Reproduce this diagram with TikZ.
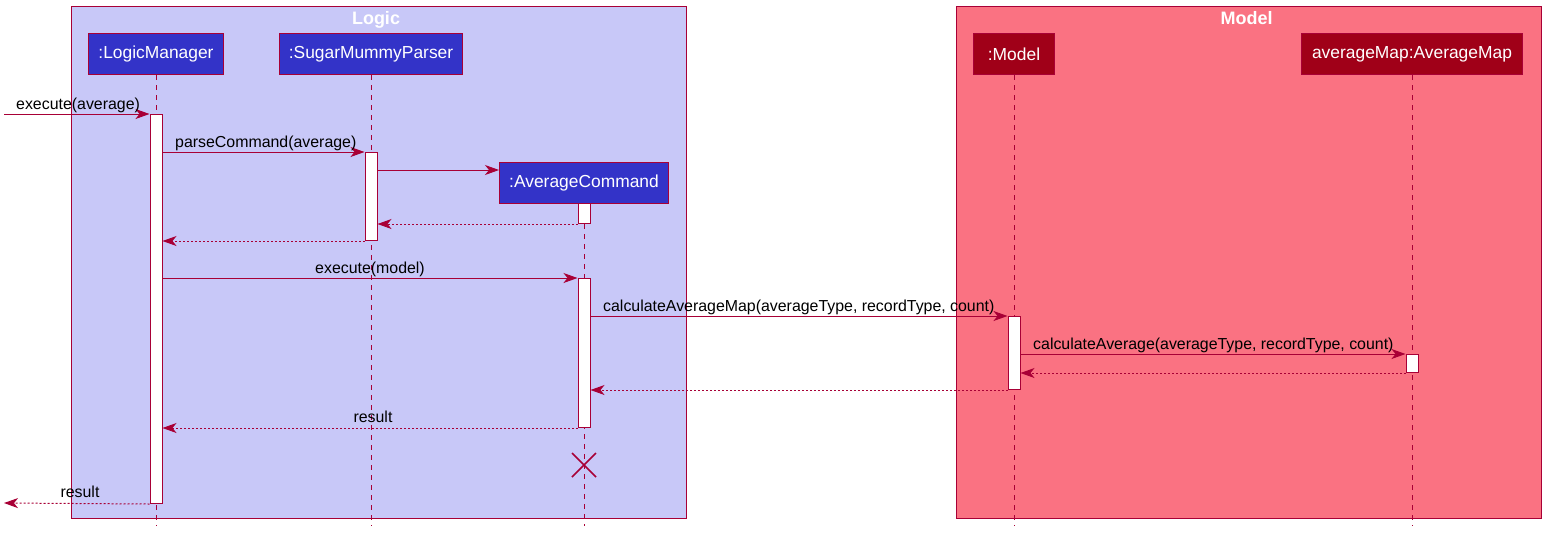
\documentclass[tikz,border=0pt]{standalone}
\usepackage{fontspec}
\setmainfont{Liberation Sans}
\usetikzlibrary{arrows.meta}
\definecolor{umlred}{HTML}{A80036}
\definecolor{logicbg}{HTML}{C8C8F8}
\definecolor{modelbg}{HTML}{FA7282}
\definecolor{logicobj}{HTML}{3333C8}
\definecolor{modelobj}{HTML}{A00018}

\begin{document}
\begin{tikzpicture}
[
x=1pt, y=-1pt,
every node/.style={font=\fontsize{15.9}{18}\selectfont},
frame/.style={draw=umlred, line width=1pt},
title/.style={text=white, font=\fontsize{18}{20}\selectfont\bfseries, anchor=base},
obj/.style={draw=umlred, line width=1pt, text=white, minimum height=41pt, inner sep=0pt, font=\fontsize{17.4}{20}\selectfont, anchor=north},
life/.style={draw=umlred, dash pattern=on 5pt off 5pt, line width=0.8pt},
act/.style={draw=umlred, fill=white, line width=1pt, minimum width=12pt, inner sep=0pt, anchor=north},
msg/.style={draw=umlred, line width=1pt, -{Stealth[length=14pt,width=10pt,inset=4pt]}},
ret/.style={msg, dash pattern=on 2pt off 2pt},
lbl/.style={anchor=base west, inner sep=0pt}
]
\useasboundingbox (0,0) rectangle (1553,539);

% boxes
\draw[frame, fill=logicbg] (71,6) rectangle (686,518);
\draw[frame, fill=modelbg] (956,6) rectangle (1541,518);
\node[title] (logicT) at (376,24) {Logic};
\node[title] (modelT) at (1246.5,24) {Model};

% participants
\node[obj, fill=logicobj, minimum width=135pt] (lm) at (156,33) {:LogicManager};
\node[obj, fill=logicobj, minimum width=183pt] (sp) at (371,33) {:SugarMummyParser};
\node[obj, fill=logicobj, minimum width=169pt] (ac) at (584,162) {:AverageCommand};
\node[obj, fill=modelobj, minimum width=81pt] (md) at (1014,33) {:Model};
\node[obj, fill=modelobj, minimum width=221pt] (am) at (1412,33) {averageMap:AverageMap};

% lifelines
\draw[life] (lm.south) -- (lm.south |- 0,526);
\draw[life] (sp.south) -- (sp.south |- 0,526);
\draw[life] (ac.south) -- (ac.south |- 0,526);
\draw[life] (md.south) -- (md.south |- 0,526);
\draw[life] (am.south) -- (am.south |- 0,526);

% activations
\node[act, minimum height=389pt] (lmA) at (156,114) {};
\node[act, minimum height=88pt] (spA) at (371,152) {};
\node[act, minimum height=20pt] (acA) at (584,203) {};
\node[act, minimum height=149pt] (acB) at (584,278) {};
\node[act, minimum height=73pt] (mdA) at (1014,316) {};
\node[act, minimum height=18pt] (amA) at (1412,354) {};

% messages
\coordinate (start) at (4,114);
\draw[msg] (start) -- (lmA.north west);
\node[lbl] (m1) at (16,109) {execute(average)};
\draw[msg] (lmA.east |- spA.north) -- (spA.north west);
\node[lbl] (m2) at (175,147) {parseCommand(average)};
\draw[msg] (spA.east |- 0,170) -- (ac.west |- 0,170);
\draw[ret] (acA.south west) -- (spA.east |- acA.south);
\draw[ret] (spA.south west) -- (lmA.east |- spA.south);
\draw[msg] (lmA.east |- acB.north) -- (acB.north west);
\node[anchor=base, inner sep=0pt] (m3) at (370,273) {execute(model)};
\draw[msg] (acB.east |- mdA.north) -- (mdA.north west);
\node[lbl] (m4) at (603,311) {calculateAverageMap(averageType, recordType, count)};
\draw[msg] (mdA.east |- amA.north) -- (amA.north west);
\node[lbl] (m5) at (1033,349) {calculateAverage(averageType, recordType, count)};
\draw[ret] (amA.south west) -- (mdA.east |- amA.south);
\draw[ret] (mdA.south west) -- (acB.east |- mdA.south);
\draw[ret] (acB.south west) -- (lmA.east |- acB.south);
\node[anchor=base, inner sep=0pt] (r1) at (373,422) {result};

% destroy
\draw[umlred, line width=1.5pt] (572,453) -- (596,477) (572,477) -- (596,453);

\coordinate (stop) at (4,503);
\draw[ret] (lmA.south west) -- (stop);
\node[anchor=base, inner sep=0pt] (r2) at (80,497) {result};
\end{tikzpicture}
\end{document}
